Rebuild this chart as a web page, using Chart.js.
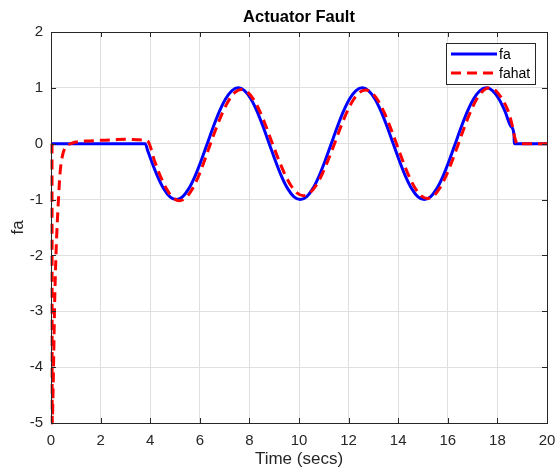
<!DOCTYPE html>
<html>
<head>
<meta charset="utf-8">
<script src="https://cdn.jsdelivr.net/npm/chart.js@4.4.1/dist/chart.umd.min.js"></script>
<style>
html,body{margin:0;padding:0;background:#fff;}
#wrap{width:556px;height:470px;position:relative;}
</style>
</head>
<body>
<div id="wrap"><canvas id="c" width="556" height="470"></canvas></div>
<script>
// ---- data ----
const chartTitle = 'Actuator Fault';
const xTitle = 'Time (secs)';
const yTitle = 'fa';
const seriesNames = ['fa', 'fahat'];

const faTime = [0, 3.8, 3.9, 4.05, 4.3, 4.55, 4.8, 5.05, 5.3, 5.55, 5.8, 6.05, 6.3, 6.55, 6.8, 7.05, 7.3, 7.55, 7.8, 8.05, 8.3, 8.55, 8.8, 9.05, 9.3, 9.55, 9.8, 10.05, 10.3, 10.55, 10.8, 11.05, 11.3, 11.55, 11.8, 12.05, 12.3, 12.55, 12.8, 13.05, 13.3, 13.55, 13.8, 14.05, 14.3, 14.55, 14.8, 15.05, 15.3, 15.55, 15.8, 16.05, 16.3, 16.55, 16.8, 17.05, 17.3, 17.55, 17.8, 18.05, 18.3, 18.55, 18.67, 18.68, 20];
const faValue = [0, 0, -0.125, -0.309, -0.588, -0.809, -0.951, -1, -0.951, -0.809, -0.588, -0.309, 0, 0.309, 0.588, 0.809, 0.951, 1, 0.951, 0.809, 0.588, 0.309, 0, -0.309, -0.588, -0.809, -0.951, -1, -0.951, -0.809, -0.588, -0.309, 0, 0.309, 0.588, 0.809, 0.951, 1, 0.951, 0.809, 0.588, 0.309, 0, -0.309, -0.588, -0.809, -0.951, -1, -0.951, -0.809, -0.588, -0.309, 0, 0.309, 0.588, 0.809, 0.951, 1, 0.951, 0.809, 0.588, 0.309, 0.16, 0, 0];

const fahatTime = [0.04, 0.05, 0.08, 0.11, 0.14, 0.2, 0.3, 0.37, 0.47, 0.6, 0.8, 1.0, 1.5, 2.0, 2.5, 3.0, 3.5, 3.8, 3.93, 4.18, 4.43, 4.68, 4.93, 5.18, 5.43, 5.68, 5.93, 6.18, 6.43, 6.68, 6.93, 7.18, 7.43, 7.68, 7.93, 8.18, 8.43, 8.68, 8.93, 9.18, 9.43, 9.68, 9.93, 10.18, 10.43, 10.68, 10.93, 11.18, 11.43, 11.68, 11.93, 12.18, 12.43, 12.68, 12.93, 13.18, 13.43, 13.68, 13.93, 14.18, 14.43, 14.68, 14.93, 15.18, 15.43, 15.68, 15.93, 16.18, 16.43, 16.68, 16.93, 17.18, 17.43, 17.68, 17.93, 18.18, 18.43, 18.58, 18.72, 18.8, 20];
const fahatValue = [0, -5, -4.5, -3.8, -3, -2, -1, -0.5, -0.2, -0.05, 0, 0.03, 0.05, 0.06, 0.07, 0.08, 0.07, 0.06, 0.03, -0.315, -0.6, -0.825, -0.97, -1.02, -0.97, -0.825, -0.6, -0.315, 0, 0.3, 0.57, 0.785, 0.922, 0.97, 0.922, 0.785, 0.57, 0.3, 0, -0.287, -0.547, -0.752, -0.884, -0.93, -0.884, -0.752, -0.547, -0.287, 0, 0.297, 0.564, 0.777, 0.913, 0.96, 0.913, 0.777, 0.564, 0.297, 0, -0.303, -0.576, -0.793, -0.932, -0.98, -0.932, -0.793, -0.576, -0.303, 0, 0.309, 0.588, 0.809, 0.951, 1.0, 0.951, 0.809, 0.588, 0.36, 0.08, 0, 0];

const xRange = [0, 20];
const yRange = [-5, 2];
const xStep = 2;
const yStep = 1;

// ---- styling ----
const axisColor = '#262626';
const gridColor = '#dfdfdf';
const fontFamily = '"Liberation Sans", Arial, Helvetica, sans-serif';

function toPoints(xs, ys) { return xs.map((x, i) => ({x: x, y: ys[i]})); }

const boxPlugin = {
  id: 'boxPlugin',
  afterDatasetsDraw(chart) {
    const {ctx, chartArea: a, scales} = chart;
    ctx.save();
    ctx.strokeStyle = axisColor;
    ctx.lineWidth = 1;
    ctx.beginPath();
    ctx.rect(Math.round(a.left) + 0.5, Math.round(a.top) + 0.5, Math.round(a.right - a.left), Math.round(a.bottom - a.top));
    ctx.stroke();
    const tl = 5;
    ctx.beginPath();
    scales.x.ticks.forEach(t => {
      const px = Math.round(scales.x.getPixelForValue(t.value)) + 0.5;
      ctx.moveTo(px, a.bottom); ctx.lineTo(px, a.bottom - tl);
      ctx.moveTo(px, a.top); ctx.lineTo(px, a.top + tl);
    });
    scales.y.ticks.forEach(t => {
      const py = Math.round(scales.y.getPixelForValue(t.value)) + 0.5;
      ctx.moveTo(a.left, py); ctx.lineTo(a.left + tl, py);
      ctx.moveTo(a.right, py); ctx.lineTo(a.right - tl, py);
    });
    ctx.stroke();
    ctx.restore();
  },
  afterDraw(chart) {
    const {ctx, chartArea: a} = chart;
    ctx.save();
    // title
    ctx.fillStyle = '#000';
    ctx.font = 'bold 16.5px ' + fontFamily;
    ctx.textAlign = 'center';
    ctx.textBaseline = 'middle';
    ctx.fillText(chartTitle, (a.left + a.right) / 2, 17);
    // legend
    const lx = 446, ly = 43, lw = 89, lh = 41;
    ctx.fillStyle = '#fff';
    ctx.fillRect(lx, ly, lw, lh);
    ctx.strokeStyle = axisColor;
    ctx.lineWidth = 1;
    ctx.strokeRect(lx + 0.5, ly + 0.5, lw, lh);
    const ds = chart.data.datasets;
    const rows = [54, 73];
    ds.forEach((d, i) => {
      ctx.save();
      ctx.strokeStyle = d.borderColor;
      ctx.lineWidth = d.borderWidth;
      ctx.setLineDash(d.borderDash || []);
      ctx.beginPath();
      ctx.moveTo(451, rows[i]);
      ctx.lineTo(497, rows[i]);
      ctx.stroke();
      ctx.restore();
      ctx.fillStyle = '#000';
      ctx.font = '14px ' + fontFamily;
      ctx.textAlign = 'left';
      ctx.textBaseline = 'middle';
      ctx.fillText(d.label, 499, rows[i] + 1);
    });
    ctx.restore();
  }
};

new Chart(document.getElementById('c'), {
  type: 'line',
  data: {
    datasets: [
      {
        label: seriesNames[0],
        data: toPoints(faTime, faValue),
        borderColor: '#0000ff',
        borderWidth: 3,
        pointRadius: 0,
        cubicInterpolationMode: 'monotone',
        fill: false,
        clip: 5,
        order: 2
      },
      {
        label: seriesNames[1],
        data: toPoints(fahatTime, fahatValue),
        borderColor: '#ff0000',
        borderWidth: 3,
        borderDash: [10, 6],
        pointRadius: 0,
        cubicInterpolationMode: 'monotone',
        fill: false,
        clip: 5,
        order: 1
      }
    ]
  },
  options: {
    responsive: false,
    animation: false,
    events: [],
    layout: { padding: { top: 32, right: 9, bottom: 0, left: 0 } },
    plugins: { legend: { display: false }, tooltip: { enabled: false }, title: { display: false } },
    scales: {
      x: {
        type: 'linear',
        min: xRange[0], max: xRange[1],
        afterFit(s) { s.height = 47; s.paddingLeft = 0; s.paddingRight = 0; },
        ticks: { stepSize: xStep, color: axisColor, font: { family: fontFamily, size: 15 }, padding: 9, maxRotation: 0 },
        grid: { color: gridColor, drawTicks: false },
        border: { color: axisColor },
        title: { display: true, text: xTitle, color: axisColor, font: { family: fontFamily, size: 17 }, padding: { top: 0, bottom: 0 } }
      },
      y: {
        type: 'linear',
        min: yRange[0], max: yRange[1],
        afterFit(s) { s.width = 51; s.paddingTop = 0; s.paddingBottom = 0; },
        ticks: { stepSize: yStep, color: axisColor, font: { family: fontFamily, size: 15 }, padding: 8 },
        grid: { color: gridColor, drawTicks: false },
        border: { color: axisColor },
        title: { display: true, text: yTitle, color: axisColor, font: { family: fontFamily, size: 17 }, padding: { top: 8, bottom: 0 } }
      }
    }
  },
  plugins: [boxPlugin]
});
</script>
</body>
</html>
